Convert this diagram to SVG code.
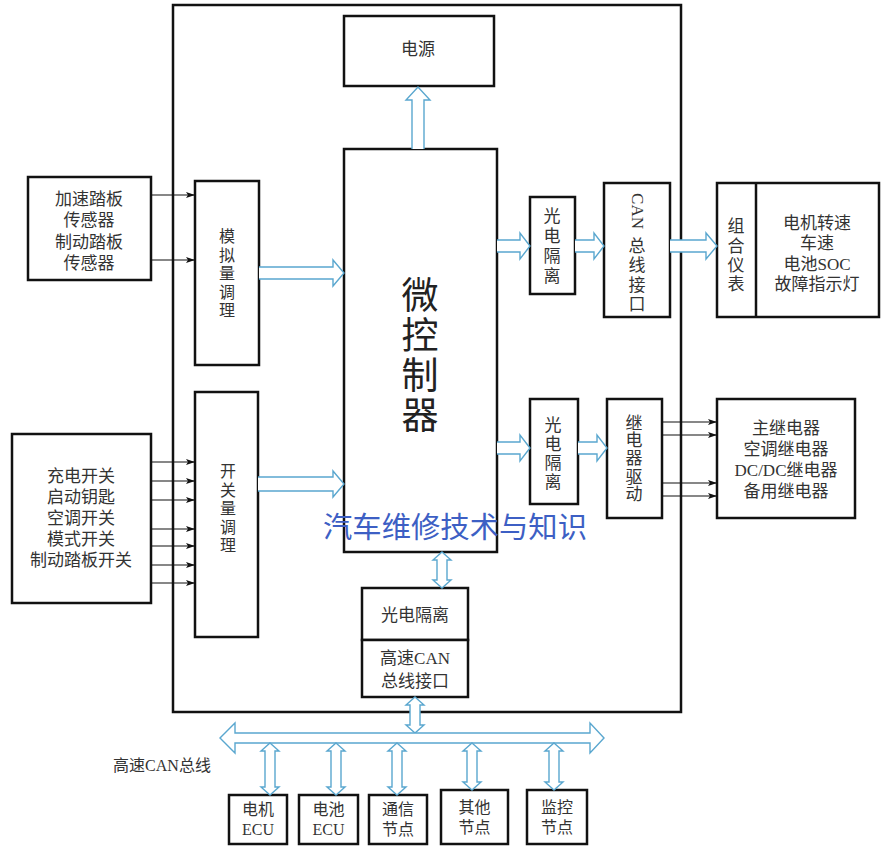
<svg xmlns="http://www.w3.org/2000/svg" width="889" height="854" viewBox="0 0 889 854">
<style>
.box{fill:#fff;stroke:#111;stroke-width:2.5}
.obox{fill:none;stroke:#111;stroke-width:2.5}
.t{font-family:"Liberation Serif","Noto Sans CJK SC",serif;font-size:17px;fill:#333;text-anchor:middle}
.ts{font-size:16px}
.big{font-family:"Noto Sans CJK SC",sans-serif;font-size:37px;fill:#222;writing-mode:vertical-rl;letter-spacing:3px}
.ha{fill:#fff;stroke:#5aa7cf;stroke-width:1.4;stroke-linejoin:miter}
.ln{stroke:#111;stroke-width:1.2;fill:none;marker-end:url(#ah)}
.wm{font-family:"Noto Sans CJK SC",sans-serif;font-size:29px;fill:#3d5fc4}
</style>
<defs>
<marker id="ah" markerWidth="9" markerHeight="6" refX="9" refY="3" orient="auto" markerUnits="userSpaceOnUse">
<path d="M0,0 L9,3 L0,6 L2,3 Z" fill="#111"/>
</marker>
</defs>
<rect width="889" height="854" fill="#fff"/>

<g id="outer"><rect class="obox" x="173" y="5" width="508" height="707"/></g>

<g id="power"><rect class="box" x="344" y="16" width="150" height="70"/><text class="t" x="418" y="55">电源</text></g>

<g id="mcu"><rect class="box" x="344" y="149" width="153" height="403"/>
<text class="big" x="420" y="276">微控制器</text>
</g>

<g id="sensors"><rect class="box" x="28" y="177" width="123" height="103"/>
<text class="t" x="89" y="204.5">加速踏板</text>
<text class="t" x="89" y="225.5">传感器</text>
<text class="t" x="89" y="247.5">制动踏板</text>
<text class="t" x="89" y="268.5">传感器</text>
</g>

<g id="analog"><rect class="box" x="195" y="181" width="64" height="184"/>
<text class="t ts" x="227" y="242">模</text>
<text class="t ts" x="227" y="260.5">拟</text>
<text class="t ts" x="227" y="279">量</text>
<text class="t ts" x="227" y="297.5">调</text>
<text class="t ts" x="227" y="316">理</text>
</g>

<g id="switches"><rect class="box" x="12" y="434" width="139" height="169"/>
<text class="t" x="81" y="482">充电开关</text>
<text class="t" x="81" y="503">启动钥匙</text>
<text class="t" x="81" y="524">空调开关</text>
<text class="t" x="81" y="545">模式开关</text>
<text class="t" x="81" y="566">制动踏板开关</text>
</g>

<g id="digital"><rect class="box" x="195" y="392" width="63" height="245"/>
<text class="t ts" x="228" y="477">开</text>
<text class="t ts" x="228" y="495.5">关</text>
<text class="t ts" x="228" y="514">量</text>
<text class="t ts" x="228" y="532.5">调</text>
<text class="t ts" x="228" y="551">理</text>
</g>

<g id="iso1"><rect class="box" x="530" y="197" width="45" height="97"/>
<text class="t" x="552" y="221.5">光</text>
<text class="t" x="552" y="241.5">电</text>
<text class="t" x="552" y="261.5">隔</text>
<text class="t" x="552" y="281.5">离</text>
</g>

<g id="canif"><rect class="box" x="604" y="183" width="66" height="134"/>
<text class="t" x="637" y="211" transform="rotate(90 637 211)" dominant-baseline="central">CAN</text>
<text class="t" x="637" y="251.5">总</text>
<text class="t" x="637" y="271">线</text>
<text class="t" x="637" y="290.5">接</text>
<text class="t" x="637" y="310">口</text>
</g>

<g id="cluster"><rect class="box" x="717" y="183" width="162" height="134"/>
<line x1="756" y1="183" x2="756" y2="317" stroke="#111" stroke-width="2.5"/>
<text class="t" x="736" y="231.5">组</text>
<text class="t" x="736" y="251.5">合</text>
<text class="t" x="736" y="270.5">仪</text>
<text class="t" x="736" y="289.5">表</text>
<text class="t" x="817" y="228.5">电机转速</text>
<text class="t" x="817" y="248.5">车速</text>
<text class="t" x="817" y="269.5">电池SOC</text>
<text class="t" x="817" y="289.5">故障指示灯</text>
</g>

<g id="iso2"><rect class="box" x="530" y="399" width="48" height="105"/>
<text class="t" x="553" y="430.5">光</text>
<text class="t" x="553" y="449.5">电</text>
<text class="t" x="553" y="468.5">隔</text>
<text class="t" x="553" y="487.5">离</text>
</g>

<g id="relaydrv"><rect class="box" x="607" y="399" width="55" height="119"/>
<text class="t" x="634" y="428.5">继</text>
<text class="t" x="634" y="446">电</text>
<text class="t" x="634" y="464">器</text>
<text class="t" x="634" y="482.5">驱</text>
<text class="t" x="634" y="500">动</text>
</g>

<g id="relays"><rect class="box" x="717" y="399" width="138" height="119"/>
<text class="t" x="786" y="433.5">主继电器</text>
<text class="t" x="786" y="454.5">空调继电器</text>
<text class="t" x="786" y="475.5">DC/DC继电器</text>
<text class="t" x="786" y="496.5">备用继电器</text>
</g>

<g id="hsiso"><rect class="box" x="362" y="588" width="106" height="52"/>
<text class="t" x="415" y="620.5">光电隔离</text>
</g>
<g id="hscan"><rect class="box" x="362" y="640" width="106" height="57"/>
<text class="t" x="415" y="663.5">高速CAN</text>
<text class="t" x="415" y="686.5">总线接口</text>
</g>

<g id="motor"><rect class="box" x="229" y="795" width="58" height="49"/>
<text class="t ts" x="258" y="815">电机</text><text class="t ts" x="258" y="835">ECU</text></g>
<g id="battery"><rect class="box" x="299" y="795" width="59" height="49"/>
<text class="t ts" x="328.5" y="815">电池</text><text class="t ts" x="328.5" y="835">ECU</text></g>
<g id="comm"><rect class="box" x="369" y="795" width="58" height="49"/>
<text class="t ts" x="398" y="815">通信</text><text class="t ts" x="398" y="835">节点</text></g>
<g id="other"><rect class="box" x="441" y="790" width="67" height="54"/>
<text class="t ts" x="474.5" y="813">其他</text><text class="t ts" x="474.5" y="833">节点</text></g>
<g id="monitor"><rect class="box" x="527" y="790" width="60" height="54"/>
<text class="t ts" x="557" y="813">监控</text><text class="t ts" x="557" y="833">节点</text></g>

<g id="buslabel"><text class="t ts" x="162" y="771">高速CAN总线</text></g>

<g id="connectors">
<line class="ln" x1="151" y1="195" x2="195" y2="195"/>
<line class="ln" x1="151" y1="260" x2="195" y2="260"/>
<line class="ln" x1="151" y1="462" x2="195" y2="462"/>
<line class="ln" x1="151" y1="481" x2="195" y2="481"/>
<line class="ln" x1="151" y1="500" x2="195" y2="500"/>
<line class="ln" x1="151" y1="529" x2="195" y2="529"/>
<line class="ln" x1="151" y1="546" x2="195" y2="546"/>
<line class="ln" x1="151" y1="565" x2="195" y2="565"/>
<line class="ln" x1="151" y1="583" x2="195" y2="583"/>
<line class="ln" x1="662" y1="422" x2="717" y2="422"/>
<line class="ln" x1="662" y1="435" x2="717" y2="435"/>
<line class="ln" x1="662" y1="483" x2="717" y2="483"/>
<line class="ln" x1="662" y1="496" x2="717" y2="496"/>
<path class="ha" d="M259,267 H333 V260 L344,273 L333,286 V279 H259"/>
<path class="ha" d="M258,477 H333 V471 L344,484 L333,497 V491 H258"/>
<path class="ha" d="M497,240 H520 V233 L530,246 L520,259 V252 H497"/>
<path class="ha" d="M575,240 H594 V233 L604,246 L594,259 V252 H575"/>
<path class="ha" d="M670,240 H706 V233 L717,246 L706,259 V252 H670"/>
<path class="ha" d="M497,442 H520 V435 L530,448 L520,461 V454 H497"/>
<path class="ha" d="M578,442 H597 V435 L607,448 L597,461 V454 H578"/>
<path class="ha" d="M412,149 V100 H406 L418,87 L430,100 H424 V149"/>
<path class="ha" d="M442,552 L451,560 H447 V580 H451 L442,588 L433,580 H437 V560 H433 Z"/>
<path class="ha" d="M415,697 L424,705 H420 V725 H424 L415,733 L406,725 H410 V705 H406 Z"/>
<path class="ha" d="M220,738 L235,723 V733 H590 V723 L604,738 L590,753 V743 H235 V753 Z"/>
<path class="ha" d="M270,743 L279,751 H275 V787 H279 L270,795 L261,787 H265 V751 H261 Z"/>
<path class="ha" d="M336,743 L345,751 H341 V787 H345 L336,795 L327,787 H331 V751 H327 Z"/>
<path class="ha" d="M397,743 L406,751 H402 V787 H406 L397,795 L388,787 H392 V751 H388 Z"/>
<path class="ha" d="M472,743 L481,751 H477 V782 H481 L472,790 L463,782 H467 V751 H463 Z"/>
<path class="ha" d="M554,743 L563,751 H559 V782 H563 L554,790 L545,782 H549 V751 H545 Z"/>
</g>

<text class="wm" x="323" y="538" textLength="264" lengthAdjust="spacingAndGlyphs">汽车维修技术与知识</text>
</svg>
